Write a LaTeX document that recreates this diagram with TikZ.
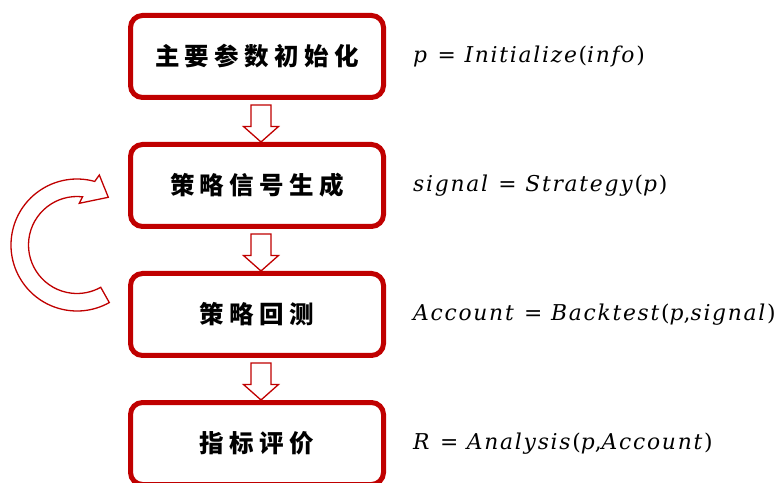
\RequirePackage{fix-cm}
\documentclass[tikz,border=0pt]{standalone}
\usepackage{fontspec}
\newfontfamily\cjk{Noto Sans CJK SC}[LetterSpace=22]
\newfontfamily\formfont{DejaVu Serif}[LetterSpace=8]
\usepackage{tikz}
\usetikzlibrary{positioning, calc}
\definecolor{darkred}{HTML}{C00000}
% freccia vuota tra due passi
\newcommand{\downArrow}[2]{
\draw[hollow] ($(#1.south)+(-6,-7.5)$) -- ($(#1.south)+(14,-7.5)$) -- ($(#2.north)+(14,18)$) -- ($(#2.north)+(21.5,18)$) -- ($(#2.north)+(4,2.5)$) -- ($(#2.north)+(-13.5,18)$) -- ($(#2.north)+(-6,18)$) -- cycle;
}
\newcommand{\vr}[1]{\textit{#1}}

\begin{document}
\begin{tikzpicture}[x=1pt, y=1pt,
    stepbox/.style={draw=darkred, line width=5pt, rounded corners=12pt, fill=white,
        minimum width=253pt, minimum height=82pt, outer sep=0pt,
        font=\cjk\bfseries\fontsize{24.5}{28}\selectfont},
    formula/.style={inner sep=0pt, font=\formfont\fontsize{21.8}{24}\selectfont},
    hollow/.style={draw=darkred, line width=1.3pt, fill=white, line join=miter}]
    \useasboundingbox (0,0) rectangle (784,482);

    % Passi
    \node[stepbox] (init) at (257,425.5) {主要参数初始化};
    \node[stepbox, below=47pt of init] (signal) {策略信号生成};
    \node[stepbox, below=47pt of signal] (backtest) {策略回测};
    \node[stepbox, below=47pt of backtest] (eval) {指标评价};

    % Formule
    \node[formula, right=29.5pt of init] (finit) {\vr{p} = \vr{Initialize}(\vr{info})};
    \node[formula, right=29.5pt of signal] (fsignal) {\vr{signal} = \vr{Strategy}(\vr{p})};
    \node[formula, right=29.5pt of backtest] (fbacktest) {\vr{Account} = \vr{Backtest}(\vr{p},\vr{signal})};
    \node[formula, right=29.5pt of eval] (feval) {\vr{R} = \vr{Analysis}(\vr{p},\vr{Account})};

    % Frecce
    \downArrow{init}{signal}
    \downArrow{signal}{backtest}
    \downArrow{backtest}{eval}

    % Ciclo
    \coordinate (loopC) at (77,237);
    \begin{scope}[shift={(loopC)}]
        \draw[hollow] (-60.7:48.5) -- (-60.7:66) arc[start angle=-60.7, end angle=-285.6, radius=66]
            -- (22.3,70) -- (31.3,47.7) -- (2.3,41.7) -- (83.4:48.5)
            arc[start angle=83.4, end angle=299.3, radius=48.5] -- cycle;
    \end{scope}
\end{tikzpicture}
\end{document}
